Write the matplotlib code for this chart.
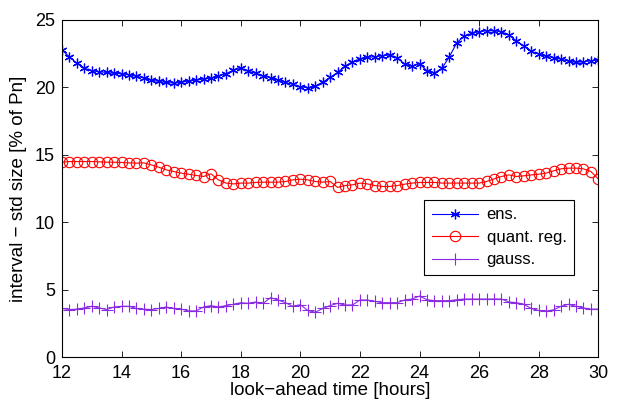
import numpy as np
import matplotlib
matplotlib.use("Agg")
import matplotlib.pyplot as plt

# look-ahead hours, one point every 15 minutes
hours = np.arange(12, 30.001, 0.25)

ens = [22.77, 22.27, 21.78, 21.43, 21.23, 21.16, 21.11, 21.04, 21.01, 20.94,
       20.82, 20.71, 20.54, 20.44, 20.37, 20.32, 20.37, 20.47, 20.54, 20.62,
       20.69, 20.84, 21.01, 21.28, 21.41, 21.21, 21.04, 20.86, 20.72, 20.54,
       20.37, 20.22, 20.04, 19.97, 20.10, 20.39, 20.74, 21.11, 21.58, 21.90,
       22.10, 22.23, 22.27, 22.35, 22.40, 22.20, 21.73, 21.58, 21.75, 21.23,
       21.08, 21.41, 22.27, 23.31, 23.81, 24.01, 24.13, 24.20, 24.20, 24.13,
       23.88, 23.46, 23.07, 22.69, 22.47, 22.32, 22.20, 22.10, 21.95, 21.86,
       21.90, 21.97, 22.03]

quant_reg = [14.45, 14.50, 14.50, 14.50, 14.50, 14.48, 14.45, 14.45, 14.43, 14.40,
             14.38, 14.40, 14.25, 14.08, 13.88, 13.76, 13.64, 13.56, 13.47, 13.39,
             13.59, 13.14, 12.90, 12.84, 12.90, 12.90, 12.95, 12.97, 12.97, 12.97,
             13.02, 13.14, 13.19, 13.14, 13.02, 12.97, 13.02, 12.58, 12.72, 12.77,
             12.90, 12.84, 12.72, 12.65, 12.65, 12.72, 12.82, 12.90, 12.95, 12.95,
             12.95, 12.90, 12.90, 12.90, 12.90, 12.90, 12.90, 13.02, 13.21, 13.39,
             13.51, 13.39, 13.44, 13.51, 13.56, 13.64, 13.81, 13.96, 14.01, 14.01,
             13.96, 13.76, 13.21]

gauss = [3.60, 3.52, 3.55, 3.64, 3.76, 3.64, 3.52, 3.71, 3.76, 3.76,
         3.60, 3.55, 3.52, 3.60, 3.71, 3.60, 3.55, 3.42, 3.42, 3.71,
         3.81, 3.71, 3.81, 3.91, 4.03, 3.98, 4.08, 3.98, 4.40, 4.23,
         4.03, 3.76, 3.88, 3.45, 3.32, 3.60, 3.81, 3.98, 3.86, 3.86,
         4.23, 4.23, 4.13, 4.03, 4.03, 4.03, 4.23, 4.30, 4.52, 4.25,
         4.18, 4.18, 4.18, 4.25, 4.30, 4.30, 4.30, 4.30, 4.30, 4.30,
         4.08, 4.03, 3.91, 3.60, 3.45, 3.40, 3.50, 3.76, 3.91, 3.76,
         3.64, 3.55, 3.55]

xticks = [12, 14, 16, 18, 20, 22, 24, 26, 28, 30]
yticks = [0, 5, 10, 15, 20, 25]

plt.rcParams["font.family"] = ["Liberation Sans", "DejaVu Sans"]

fig = plt.figure(figsize=(6.2, 4.0), dpi=100)
ax = fig.add_axes([0.1, 0.1075, 0.865, 0.8425])

# matlab style asterisk marker: 6 spokes
asterisk = (6, 2, 0)
ax.plot(hours, ens, color="#0000ff", lw=0.8, marker=asterisk, ms=7, mew=0.9,
        label="ens.")
ax.plot(hours, quant_reg, color="#ff0000", lw=0.8, marker="o", ms=7.5,
        mfc="none", mew=0.8, label="quant. reg.")
ax.plot(hours, gauss, color="#8a2be2", lw=0.8, marker="+", ms=8, mew=0.8,
        label="gauss.")

ax.set_xlim(12, 30)
ax.set_ylim(0, 25)
ax.set_xticks(xticks)
ax.set_yticks(yticks)
ax.tick_params(direction="in", top=True, right=True, labelsize=13,
               length=4, width=0.6)
ax.tick_params(axis="x", pad=6)
ax.tick_params(axis="y", pad=5)
for s in ax.spines.values():
    s.set_linewidth(0.8)

ax.set_xlabel("look\u2212ahead time [hours]", fontsize=13.5, labelpad=0)
ax.set_ylabel("interval \u2212 std size [% of Pn]", fontsize=13.5, labelpad=6)

leg = ax.legend(loc="upper left", bbox_to_anchor=(0.675, 0.466), fontsize=12,
                fancybox=False, framealpha=1, edgecolor="black", numpoints=1,
                handlelength=2.8, borderpad=0.45, labelspacing=0.45,
                borderaxespad=0, handletextpad=0.5)
leg.get_frame().set_linewidth(0.8)

fig.savefig("out.png", dpi=100)
